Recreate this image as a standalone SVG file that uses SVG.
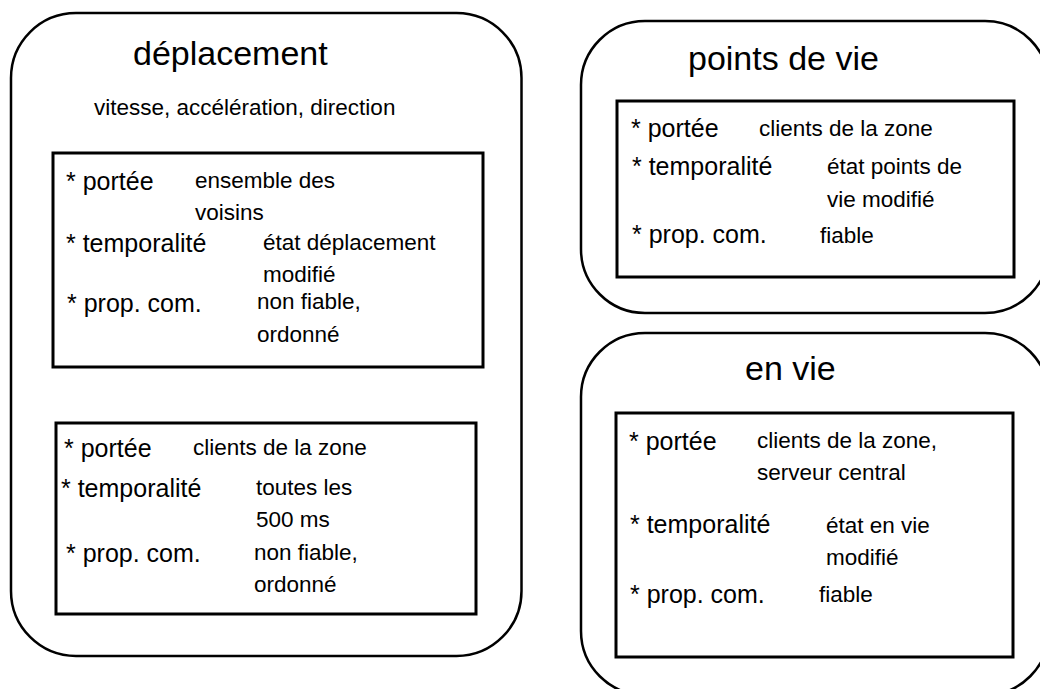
<svg xmlns="http://www.w3.org/2000/svg" width="1040" height="689" viewBox="0 0 1040 689">
<style>
  .outer { fill: none; stroke: #000; stroke-width: 2.5; }
  .inner { fill: none; stroke: #000; stroke-width: 3; }
  text { font-family: "Liberation Sans", Arial, sans-serif; fill: #000; }
  .title { font-size: 34px; }
  .sub { font-size: 22.5px; }
  .lbl { font-size: 25px; }
  .val { font-size: 22.5px; }
</style>
<rect x="0" y="0" width="1040" height="689" fill="#fff"/>
<g id="deplacement">
  <rect class="outer" x="11" y="13" width="510.5" height="643" rx="65" ry="65"/>
  <text class="title" x="133" y="65">déplacement</text>
  <text class="sub" x="94" y="115">vitesse, accélération, direction</text>
</g>
<g id="deplacement-voisins">
  <rect class="inner" x="53" y="153" width="430" height="214"/>
  <text class="lbl" x="66" y="190">* portée</text>
  <text class="val" x="195" y="188">ensemble des</text>
  <text class="val" x="195" y="220">voisins</text>
  <text class="lbl" x="66" y="252">* temporalité</text>
  <text class="val" x="263" y="250">état déplacement</text>
  <text class="val" x="263" y="282">modifié</text>
  <text class="lbl" x="67" y="312">* prop. com.</text>
  <text class="val" x="257" y="309">non fiable,</text>
  <text class="val" x="257" y="342">ordonné</text>
</g>
<g id="deplacement-zone">
  <rect class="inner" x="56" y="423" width="420" height="191"/>
  <text class="lbl" x="64" y="457">* portée</text>
  <text class="val" x="193" y="455">clients de la zone</text>
  <text class="lbl" x="61" y="497">* temporalité</text>
  <text class="val" x="256" y="495">toutes les</text>
  <text class="val" x="256" y="527">500 ms</text>
  <text class="lbl" x="66" y="562">* prop. com.</text>
  <text class="val" x="254" y="560">non fiable,</text>
  <text class="val" x="254" y="592">ordonné</text>
</g>
<g id="points-de-vie">
  <rect class="outer" x="581" y="21" width="468" height="292" rx="64" ry="64"/>
  <text class="title" x="688" y="70">points de vie</text>
  <rect class="inner" x="617" y="101" width="397" height="176"/>
  <text class="lbl" x="631" y="137">* portée</text>
  <text class="val" x="759" y="136">clients de la zone</text>
  <text class="lbl" x="632" y="175">* temporalité</text>
  <text class="val" x="827" y="174">état points de</text>
  <text class="val" x="827" y="207">vie modifié</text>
  <text class="lbl" x="632" y="243">* prop. com.</text>
  <text class="val" x="820" y="243">fiable</text>
</g>
<g id="en-vie">
  <rect class="outer" x="581" y="333" width="468" height="362" rx="64" ry="64"/>
  <text class="title" x="745" y="380">en vie</text>
  <rect class="inner" x="616" y="413" width="397" height="244"/>
  <text class="lbl" x="629" y="450">* portée</text>
  <text class="val" x="757" y="448">clients de la zone,</text>
  <text class="val" x="757" y="480">serveur central</text>
  <text class="lbl" x="630" y="533">* temporalité</text>
  <text class="val" x="826" y="533">état en vie</text>
  <text class="val" x="826" y="565">modifié</text>
  <text class="lbl" x="630" y="603">* prop. com.</text>
  <text class="val" x="819" y="602">fiable</text>
</g>
<g id="connectors"></g>
</svg>
